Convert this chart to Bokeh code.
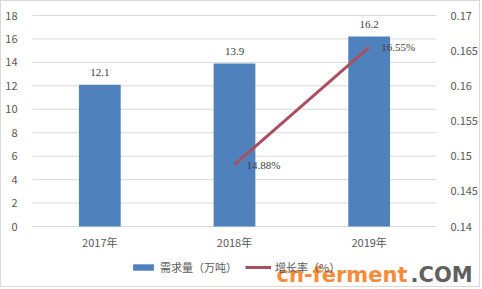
from bokeh.plotting import figure
from bokeh.models import (Range1d, LinearAxis, FixedTicker, CustomJSTickFormatter,
                          ColumnDataSource, LabelSet, Legend, LegendItem, Label)
from bokeh.embed import file_html
from bokeh.resources import INLINE

categories = ["2017年", "2018年", "2019年"]
demand = [12.1, 13.9, 16.2]
rate_years = ["2018年", "2019年"]
rates = [0.1488, 0.1655]
left_ticks = [0, 2, 4, 6, 8, 10, 12, 14, 16, 18]
right_ticks = [0.14, 0.145, 0.15, 0.155, 0.16, 0.165, 0.17]
bar_name = "需求量（万吨）"
line_name = "增长率（%）"

FONT = "Noto Sans CJK SC"
TXT = "#595959"

# layout (pixels inside the 480x287 canvas): plot area left/right/top/bottom
W, H = 480, 287
PL, PR, PT, PB = 31, 435, 14, 225
n = len(categories)
L_MIN, L_MAX = left_ticks[0], left_ticks[-1]
R_MIN, R_MAX = right_ticks[0], right_ticks[-1]
xu = n / (PR - PL)
lu = (L_MAX - L_MIN) / (PB - PT)
ru = (R_MAX - R_MIN) / (PB - PT)

p = figure(width=W, height=H,
           x_range=Range1d(-PL * xu, n + (W - PR) * xu),
           y_range=Range1d(L_MIN - (H - PB) * lu, L_MAX + PT * lu),
           x_axis_location=None, y_axis_location=None,
           output_backend="svg", toolbar_location=None, min_border=0)
p.styles = {"border": "1px solid #d9d9d9"}
p.outline_line_color = None
p.background_fill_color = "white"
p.extra_y_ranges = {"rate": Range1d(R_MIN - (H - PB) * ru, R_MAX + PT * ru)}
p.grid.visible = False

# horizontal gridlines over the plot area
p.segment(x0=[0] * len(left_ticks), x1=[n] * len(left_ticks), y0=left_ticks, y1=left_ticks,
          line_color="#d9d9d9", line_width=1)

xpos = [i + 0.5 for i in range(n)]
xax = LinearAxis(fixed_location=L_MIN, ticker=FixedTicker(ticks=xpos),
                 major_label_overrides={x: c for x, c in zip(xpos, categories)})
lax = LinearAxis(fixed_location=0, ticker=FixedTicker(ticks=left_ticks))
rax = LinearAxis(fixed_location=n, y_range_name="rate", ticker=FixedTicker(ticks=right_ticks),
                 formatter=CustomJSTickFormatter(code="return String(Number(tick.toFixed(3)));"))
for ax in [xax, lax, rax]:
    ax.axis_line_color = None
    ax.major_tick_line_color = None
    ax.minor_tick_line_color = None
    ax.major_label_text_font = FONT
    ax.major_label_text_font_size = "11px"
    ax.major_label_text_color = TXT
lax.major_label_standoff = 9
rax.major_label_standoff = 8
xax.major_label_standoff = 1
p.add_layout(xax, "below")
p.add_layout(lax, "left")
p.add_layout(rax, "right")

bsrc = ColumnDataSource(dict(x=xpos, top=demand, lab=[f"{v:.1f}" for v in demand]))
bars = p.vbar(x="x", top="top", bottom=0, width=0.31, source=bsrc,
              fill_color="#4F81BD", line_color=None)

lx = [categories.index(c) + 0.5 for c in rate_years]
lsrc = ColumnDataSource(dict(x=lx, y=rates, lab=[f"{v*100:.2f}%" for v in rates]))
line = p.line(x="x", y="y", source=lsrc, y_range_name="rate", line_color="#A84F60", line_width=3)

p.add_layout(LabelSet(x="x", y="top", text="lab", source=bsrc, text_align="center",
                      text_baseline="bottom", y_offset=9, text_font=FONT,
                      text_font_size="11px", text_color="#404040"))
p.add_layout(LabelSet(x="x", y="y", text="lab", source=lsrc, y_range_name="rate",
                      text_align="left", text_baseline="middle", x_offset=12, text_font=FONT,
                      text_font_size="11px", text_color="#404040"))

legend = Legend(items=[LegendItem(label=bar_name, renderers=[bars]),
                       LegendItem(label=line_name, renderers=[line])],
                location=(129, 13), orientation="horizontal",
                glyph_width=26, glyph_height=8, label_height=14, label_standoff=4,
                spacing=8, padding=0, margin=0, border_line_color=None,
                background_fill_alpha=0, label_text_font=FONT,
                label_text_font_size="11px", label_text_color=TXT)
p.add_layout(legend, "center")

p.add_layout(Label(x=275, y=14, x_units="screen", y_units="screen", text="cn-ferment",
                   text_font="DejaVu Sans", text_font_style="bold", text_font_size="21px",
                   text_color="#F68B3C", text_baseline="alphabetic"))
p.add_layout(Label(x=409, y=14, x_units="screen", y_units="screen", text=".COM",
                   text_font="DejaVu Sans", text_font_style="bold", text_font_size="21px",
                   text_color="#606060", text_baseline="alphabetic"))

open("out.html", "w").write(file_html(p, INLINE))
